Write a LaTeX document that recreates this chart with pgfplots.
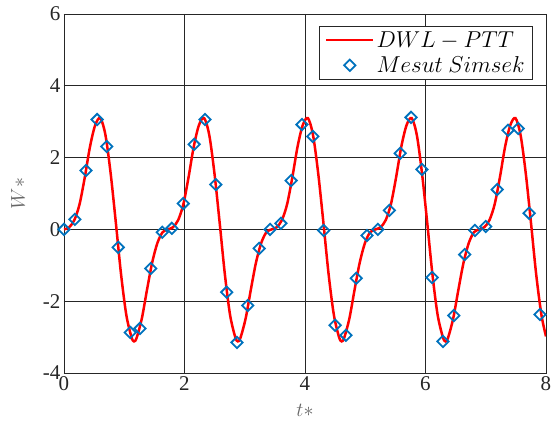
\RequirePackage{fix-cm}
\documentclass[border=0pt]{standalone}
\usepackage{pgfplots}
\pgfplotsset{compat=1.18}
\usepackage{fontspec}
\setmainfont{Liberation Serif}
\definecolor{mblue}{rgb}{0,0.447,0.741}
\definecolor{axgray}{rgb}{0.15,0.15,0.15}
\definecolor{labgray}{rgb}{0.40,0.40,0.40}
\pgfplotsset{
  lineleg/.style={legend image code/.code={\draw[##1] (0bp,0bp) -- (47bp,0bp);}},
  markleg/.style={legend image code/.code={\draw[##1] plot coordinates {(23.5bp,0bp)};}},
}
\begin{document}
\begin{tikzpicture}
\begin{axis}[
  scale only axis, width=482bp, height=359bp,
  xmin=0, xmax=8, ymin=-4, ymax=6,
  xtick={0,2,4,6,8}, ytick={-4,-2,0,2,4,6},
  grid=major, grid style={axgray, line width=0.9bp},
  axis line style={axgray, line width=0.9bp},
  tick style={axgray, line width=0.8bp},
  tick align=inside, major tick length=5bp,
  /pgf/number format/assume math mode=true,
  ticklabel style={font=\fontsize{21bp}{24bp}\selectfont, text=axgray},
  xlabel={$t*$}, ylabel={$W*$},
  xlabel style={font=\fontsize{20bp}{22bp}\selectfont, text=labgray, at={(axis description cs:0.5,-0.103)}, anchor=center},
  ylabel style={font=\fontsize{20bp}{22bp}\selectfont, text=labgray, at={(axis description cs:-0.0954,0.5)}, anchor=center},
  legend cell align=left,
  legend style={at={(axis description cs:0.973,0.9666)}, anchor=north east,
    draw=axgray, line width=0.8bp, fill=white,
    font=\fontsize{23bp}{27bp}\selectfont, inner xsep=6bp, inner ysep=3bp, row sep=4bp,
    /tikz/every even column/.append style={column sep=2bp}},
]
\addplot[red, line width=2.5bp, smooth, tension=0.5, lineleg]
coordinates {
(0,0) (0.086,0.06) (0.172,0.26) (0.258,0.70) (0.345,1.45) (0.431,2.30) (0.517,2.90) (0.603,3.10) (0.689,2.62) (0.775,1.55) (0.861,0.18) (0.947,-1.25) (1.034,-2.38) (1.120,-3.00) (1.163,-3.12) (1.206,-3.02) (1.292,-2.48) (1.378,-1.68) (1.464,-0.92) (1.550,-0.38) (1.636,-0.08)
(1.723,0) (1.809,0.06) (1.895,0.26) (1.981,0.70) (2.067,1.45) (2.153,2.30) (2.239,2.90) (2.326,3.10) (2.412,2.62) (2.498,1.55) (2.584,0.18) (2.670,-1.25) (2.756,-2.38) (2.842,-3.00) (2.886,-3.12) (2.929,-3.02) (3.015,-2.48) (3.101,-1.68) (3.187,-0.92) (3.273,-0.38) (3.359,-0.08)
(3.445,0) (3.531,0.06) (3.617,0.26) (3.703,0.70) (3.790,1.45) (3.876,2.30) (3.962,2.90) (4.048,3.10) (4.134,2.62) (4.220,1.55) (4.306,0.18) (4.392,-1.25) (4.479,-2.38) (4.565,-3.00) (4.608,-3.12) (4.651,-3.02) (4.737,-2.48) (4.823,-1.68) (4.909,-0.92) (4.995,-0.38) (5.081,-0.08)
(5.168,0) (5.254,0.06) (5.340,0.26) (5.426,0.70) (5.512,1.45) (5.598,2.30) (5.685,2.90) (5.771,3.10) (5.857,2.62) (5.943,1.55) (6.029,0.18) (6.115,-1.25) (6.201,-2.38) (6.288,-3.00) (6.331,-3.12) (6.374,-3.02) (6.460,-2.48) (6.546,-1.68) (6.632,-0.92) (6.718,-0.38) (6.804,-0.08)
(6.890,0) (6.976,0.06) (7.062,0.26) (7.148,0.70) (7.235,1.45) (7.321,2.30) (7.407,2.90) (7.493,3.10) (7.579,2.62) (7.665,1.55) (7.751,0.18) (7.837,-1.25) (7.924,-2.38) (8.0,-2.98)
};
\addlegendentry{$DWL-PTT$}
\addplot[only marks, mark=square, mark size=4bp,
  mark options={rotate=45, draw=mblue, line width=1.8bp, fill=none}, markleg]
coordinates {
(0,0) (0.18,0.28) (0.365,1.64) (0.55,3.06) (0.71,2.31) (0.90,-0.5) (1.10,-2.87) (1.26,-2.76) (1.44,-1.09) (1.63,-0.08) (1.79,0.03) (1.98,0.72) (2.16,2.37) (2.34,3.06) (2.52,1.25) (2.70,-1.75) (2.87,-3.15) (3.05,-2.12) (3.24,-0.53) (3.42,0.0) (3.60,0.17) (3.77,1.36) (3.95,2.92) (4.13,2.59) (4.31,-0.03) (4.50,-2.67) (4.68,-2.95) (4.85,-1.36) (5.03,-0.17) (5.21,0.0) (5.40,0.53) (5.58,2.12) (5.76,3.12) (5.94,1.67) (6.11,-1.34) (6.29,-3.12) (6.47,-2.4) (6.65,-0.7) (6.82,-0.03) (7.00,0.08) (7.19,1.11) (7.37,2.76) (7.54,2.81) (7.72,0.45) (7.90,-2.37)
};
\addlegendentry{$Mesut\ Simsek$}
\end{axis}
\pgfresetboundingbox
\useasboundingbox (-64bp,-53bp) rectangle (488bp,373bp);
\end{tikzpicture}
\end{document}
